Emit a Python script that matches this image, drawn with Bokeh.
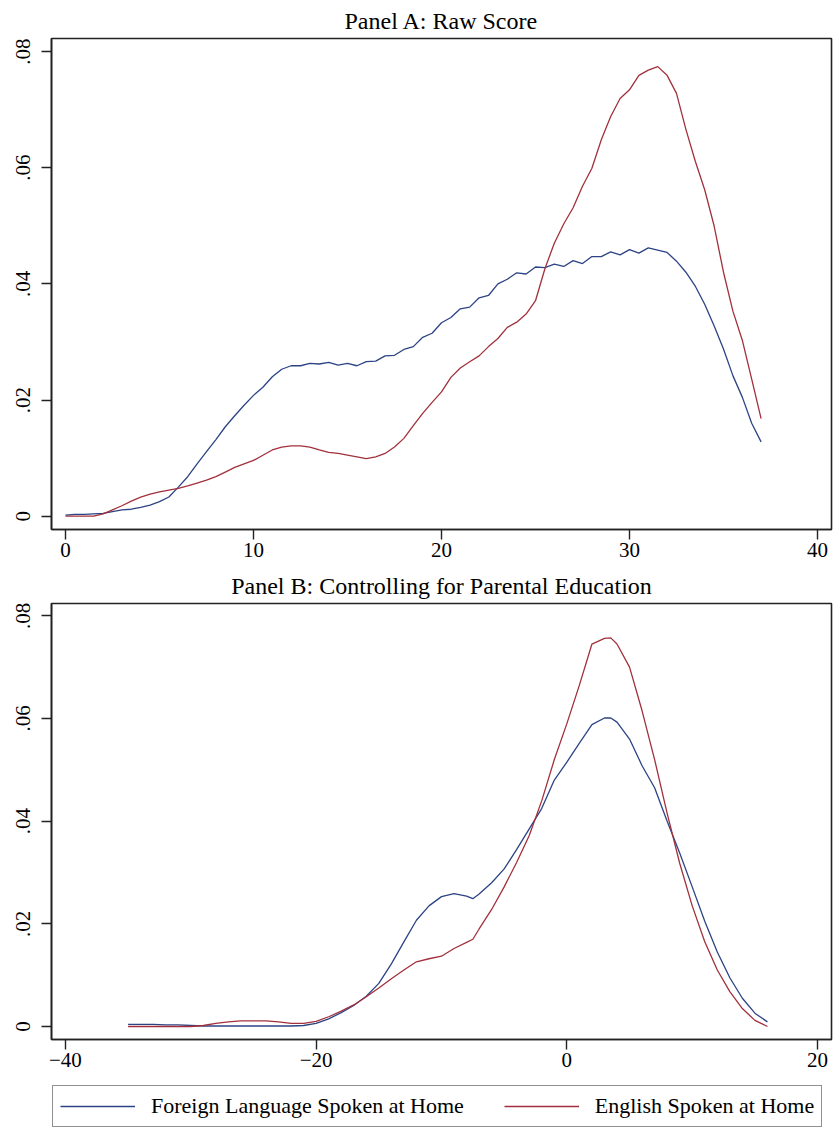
from bokeh.plotting import figure
from bokeh.models import Range1d, FixedTicker, Legend, LegendItem
from bokeh.layouts import column
from bokeh.embed import file_html
from bokeh.resources import INLINE

# ---------------- data ----------------
panel_a_title = "Panel A: Raw Score"
panel_b_title = "Panel B: Controlling for Parental Education"
series_names = ["Foreign Language Spoken at Home", "English Spoken at Home"]

a_x = [0, 0.5, 1, 1.5, 2, 2.5, 3, 3.5, 4, 4.5, 5, 5.5, 6, 6.5, 7, 7.5, 8, 8.5, 9, 9.5,
       10, 10.5, 11, 11.5, 12, 12.5, 13, 13.5, 14, 14.5, 15, 15.5, 16, 16.5, 17, 17.5,
       18, 18.5, 19, 19.5, 20, 20.5, 21, 21.5, 22, 22.5, 23, 23.5, 24, 24.5, 25, 25.5,
       26, 26.5, 27, 27.5, 28, 28.5, 29, 29.5, 30, 30.5, 31, 31.5, 32, 32.5, 33, 33.5,
       34, 34.5, 35, 35.5, 36, 36.5, 37]
a_foreign = [0.0002, 0.0003, 0.0003, 0.0004, 0.0005, 0.0008, 0.0011, 0.0012, 0.0015, 0.0019,
             0.0025, 0.0033, 0.0050, 0.0068, 0.0090, 0.0111, 0.0132, 0.0154, 0.0173, 0.0191,
             0.0208, 0.0222, 0.0240, 0.0253, 0.0259, 0.0259, 0.0263, 0.0262, 0.0265, 0.0260,
             0.0263, 0.0259, 0.0266, 0.0267, 0.0276, 0.0277, 0.0287, 0.0292, 0.0308, 0.0315,
             0.0333, 0.0342, 0.0357, 0.0360, 0.0376, 0.0380, 0.0400, 0.0408, 0.0419, 0.0417,
             0.0429, 0.0428, 0.0434, 0.0430, 0.0440, 0.0435, 0.0447, 0.0447, 0.0455, 0.0450,
             0.0459, 0.0453, 0.0462, 0.0458, 0.0454, 0.0439, 0.0420, 0.0396, 0.0365, 0.0328,
             0.0288, 0.0242, 0.0205, 0.0160, 0.0128]
a_english = [0.0, 0.0, 0.0, 0.0, 0.0004, 0.0011, 0.0018, 0.0026, 0.0033, 0.0038,
             0.0042, 0.0045, 0.0048, 0.0052, 0.0057, 0.0062, 0.0068, 0.0076, 0.0084, 0.0090,
             0.0096, 0.0105, 0.0114, 0.0119, 0.0121, 0.0121, 0.0119, 0.0114, 0.0110, 0.0108,
             0.0105, 0.0102, 0.0099, 0.0102, 0.0108, 0.0119, 0.0134, 0.0156, 0.0177, 0.0196,
             0.0214, 0.0239, 0.0255, 0.0266, 0.0276, 0.0292, 0.0306, 0.0325, 0.0334, 0.0348,
             0.0371, 0.0426, 0.0470, 0.0503, 0.0531, 0.0568, 0.0599, 0.0648, 0.0688, 0.0719,
             0.0734, 0.0759, 0.0768, 0.0774, 0.0759, 0.0728, 0.0666, 0.0611, 0.0562, 0.0500,
             0.0420, 0.0353, 0.0303, 0.0236, 0.0168]

b_x = [-35, -34, -33, -32, -31, -30, -29, -28, -27, -26, -25, -24, -23, -22, -21, -20,
       -19, -18, -17, -16, -15, -14, -13, -12, -11, -10, -9, -8, -7.5, -7, -6, -5, -4,
       -3, -2, -1, 0, 1, 2, 3, 3.5, 4, 5, 6, 7, 8, 9, 10, 11, 12, 13, 14, 15, 16]
b_foreign = [0.0004, 0.0004, 0.0004, 0.0003, 0.0003, 0.0002, 0.0001, 0.0001, 0.0001, 0.0001,
             0.0001, 0.0001, 0.0001, 0.0001, 0.0002, 0.0006, 0.0015, 0.0027, 0.0041, 0.0059,
             0.0084, 0.0122, 0.0165, 0.0207, 0.0235, 0.0253, 0.0259, 0.0254, 0.0249, 0.0258,
             0.0280, 0.0307, 0.0345, 0.0385, 0.0425, 0.0480, 0.0515, 0.0552, 0.0588, 0.0601,
             0.0601, 0.0593, 0.0560, 0.0508, 0.0465, 0.0400, 0.0338, 0.0272, 0.0205, 0.0145,
             0.0095, 0.0055, 0.0026, 0.0009]
b_english = [0.0, 0.0, 0.0, 0.0, 0.0, 0.0, 0.0002, 0.0006, 0.0009, 0.0011,
             0.0011, 0.0011, 0.0009, 0.0006, 0.0006, 0.0010, 0.0019, 0.0030, 0.0042, 0.0058,
             0.0075, 0.0093, 0.0110, 0.0126, 0.0132, 0.0137, 0.0152, 0.0164, 0.0170, 0.0190,
             0.0228, 0.0272, 0.0320, 0.0372, 0.0440, 0.0520, 0.0590, 0.0665, 0.0745, 0.0756,
             0.0757, 0.0745, 0.0700, 0.0615, 0.0520, 0.0415, 0.0318, 0.0235, 0.0165, 0.0110,
             0.0068, 0.0035, 0.0012, 0.0]

y_ticks = [0, 0.02, 0.04, 0.06, 0.08]
y_tick_labels = ["0", ".02", ".04", ".06", ".08"]
a_x_ticks = [0, 10, 20, 30, 40]
a_x_tick_labels = ["0", "10", "20", "30", "40"]
b_x_ticks = [-40, -20, 0, 20]
b_x_tick_labels = ["\u221240", "\u221220", "0", "20"]

# ---------------- style ----------------
FONT = "Liberation Serif"
BLUE = "#2c4385"
RED = "#a2303c"
INK = "#222222"
W = 833


def style(p, xticks, xlabels):
    p.title.text_font = FONT
    p.title.text_font_style = "normal"
    p.title.text_font_size = "24px"
    p.title.align = "center"
    p.title.text_color = "black"
    p.title.standoff = 10
    p.outline_line_color = INK
    p.outline_line_width = 1.6
    p.xgrid.visible = False
    p.ygrid.visible = False
    p.background_fill_color = "white"
    p.border_fill_color = "white"
    p.xaxis.ticker = FixedTicker(ticks=xticks)
    p.xaxis.major_label_overrides = {t: l for t, l in zip(xticks, xlabels)}
    p.yaxis.ticker = FixedTicker(ticks=y_ticks)
    p.yaxis.major_label_overrides = {t: l for t, l in zip(y_ticks, y_tick_labels)}
    p.yaxis.major_label_orientation = "vertical"
    for ax in (p.xaxis, p.yaxis):
        ax.axis_line_color = INK
        ax.axis_line_width = 1.6
        ax.major_tick_line_color = INK
        ax.major_tick_line_width = 1.4
        ax.major_tick_out = 10
        ax.major_tick_in = 0
        ax.minor_tick_out = 0
        ax.minor_tick_in = 0
        ax.major_label_text_font = FONT
        ax.major_label_text_font_size = "21px"
        ax.major_label_text_color = "black"
    p.xaxis.major_label_standoff = 3
    p.yaxis.major_label_standoff = 11


# Panel A
pa = figure(width=W, height=565, title=panel_a_title, output_backend="svg",
            toolbar_location=None,
            x_range=Range1d(-0.745, 40.745), y_range=Range1d(-0.00229, 0.08224),
            min_border_left=51, min_border_right=2, min_border_top=38,
            min_border_bottom=36)
style(pa, a_x_ticks, a_x_tick_labels)
pa.line(a_x, a_foreign, line_color=BLUE, line_width=1.3)
pa.line(a_x, a_english, line_color=RED, line_width=1.3)

# Panel B
pb = figure(width=W, height=510, title=panel_b_title, output_backend="svg",
            toolbar_location=None,
            x_range=Range1d(-41.11, 21.11), y_range=Range1d(-0.00253, 0.0824),
            min_border_left=45, min_border_right=2, min_border_top=38,
            min_border_bottom=36)
style(pb, b_x_ticks, b_x_tick_labels)
pb.line(b_x, b_foreign, line_color=BLUE, line_width=1.3)
pb.line(b_x, b_english, line_color=RED, line_width=1.3)

# Legend strip: its own figure; the series are drawn there too but out of view,
# so only the legend keys show.
pl = figure(width=W, height=55, output_backend="svg", toolbar_location=None,
            x_axis_location=None, y_axis_location=None,
            x_range=Range1d(100, 101), y_range=Range1d(100, 101),
            min_border=0, min_border_left=0, min_border_right=0,
            min_border_top=0, min_border_bottom=0)
pl.grid.visible = False
pl.outline_line_color = None
pl.background_fill_color = "white"
pl.border_fill_color = "white"
kf = pl.line(b_x, b_foreign, line_color=BLUE, line_width=1.3)
ke = pl.line(b_x, b_english, line_color=RED, line_width=1.3)
legend = Legend(items=[LegendItem(label=series_names[0], renderers=[kf]),
                       LegendItem(label=series_names[1], renderers=[ke])],
                orientation="horizontal", location=(1, 3),
                border_line_color=INK, border_line_width=1.6,
                label_text_font=FONT, label_text_font_size="22px",
                label_text_color="black",
                glyph_width=75, glyph_height=20, label_standoff=16,
                spacing=40, padding=7, margin=0,
                background_fill_color="white")
pl.add_layout(legend, "center")

layout = column(pa, pb, pl, spacing=0)

open("out.html", "w").write(file_html(layout, INLINE))
